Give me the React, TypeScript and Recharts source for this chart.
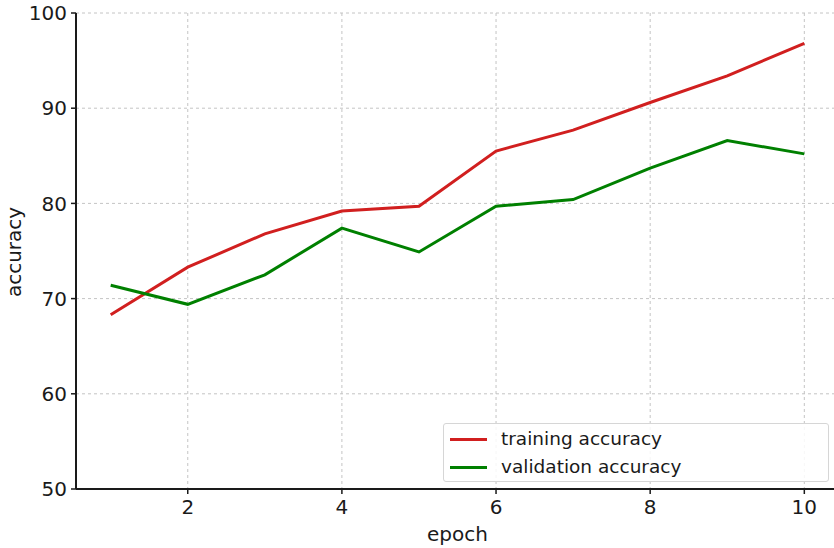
import React from "react";
import { LineChart, Line, XAxis, YAxis, CartesianGrid, Legend } from "recharts";

const epochs = [1, 2, 3, 4, 5, 6, 7, 8, 9, 10];
const trainingAccuracy = [68.3, 73.3, 76.8, 79.2, 79.7, 85.5, 87.7, 90.6, 93.4, 96.8];
const validationAccuracy = [71.4, 69.4, 72.5, 77.4, 74.9, 79.7, 80.4, 83.7, 86.6, 85.2];
const xTicks = [2, 4, 6, 8, 10];
const yTicks = [50, 60, 70, 80, 90, 100];

const data = epochs.map((e, i) => ({
  epoch: e,
  train: trainingAccuracy[i],
  val: validationAccuracy[i],
}));

const FONT = "DejaVu Sans";
const RED = "#d11f1f";
const GREEN = "#008000";
const INK = "#1a1a1a";

const LegendBox = () => (
  <div
    style={{
      position: "absolute",
      left: 443,
      top: 423,
      width: 386,
      height: 59,
      border: "1px solid #d6d6d6",
      borderRadius: 3,
      background: "rgba(255,255,255,0.85)",
      fontFamily: FONT,
      fontSize: 18.5,
      color: INK,
      boxSizing: "border-box",
    }}
  >
    {[
      { c: RED, t: "training accuracy", y: 3 },
      { c: GREEN, t: "validation accuracy", y: 31 },
    ].map((r) => (
      <div key={r.t} style={{ position: "absolute", left: 6, top: r.y, height: 24, display: "flex", alignItems: "center" }}>
        <div style={{ width: 37, height: 3, background: r.c }} />
        <span style={{ marginLeft: 14, lineHeight: "24px" }}>{r.t}</span>
      </div>
    ))}
  </div>
);

const YLabel = () => (
  <text x={14} y={252} transform="rotate(-90 14 252)" textAnchor="middle" dominantBaseline="central" fill={INK} fontFamily={FONT} fontSize={20}>
    accuracy
  </text>
);

export default function App() {
  return (
    <div style={{ position: "absolute", left: 0, top: 0, width: 834, height: 548, overflow: "hidden", background: "#fff" }}>
      <LineChart width={840} height={548} data={data} margin={{ top: 13, right: 1, left: 0, bottom: 0 }}>
        <CartesianGrid stroke="#c4c4c4" strokeDasharray="3 3" />
        <XAxis
          dataKey="epoch"
          type="number"
          domain={[0.55, 10.45]}
          ticks={xTicks}
          allowDataOverflow
          height={59}
          tickSize={5}
          tickMargin={6}
          axisLine={{ stroke: INK, strokeWidth: 2 }}
          tickLine={{ stroke: INK, strokeWidth: 1.5 }}
          tick={{ fill: INK, fontFamily: FONT, fontSize: 20 }}
          label={{ value: "epoch", position: "insideBottom", offset: 7, fill: INK, fontFamily: FONT, fontSize: 20 }}
        />
        <YAxis
          type="number"
          domain={[50, 100]}
          ticks={yTicks}
          allowDataOverflow
          width={76}
          tickSize={5}
          tickMargin={4}
          axisLine={{ stroke: INK, strokeWidth: 2 }}
          tickLine={{ stroke: INK, strokeWidth: 1.5 }}
          tick={{ fill: INK, fontFamily: FONT, fontSize: 20 }}
          label={<YLabel />}
        />
        <Line type="linear" dataKey="train" stroke={RED} strokeWidth={3} dot={false} isAnimationActive={false} name="training accuracy" />
        <Line type="linear" dataKey="val" stroke={GREEN} strokeWidth={3} dot={false} isAnimationActive={false} name="validation accuracy" />
        <Legend content={() => null} />
      </LineChart>
      <LegendBox />
    </div>
  );
}
